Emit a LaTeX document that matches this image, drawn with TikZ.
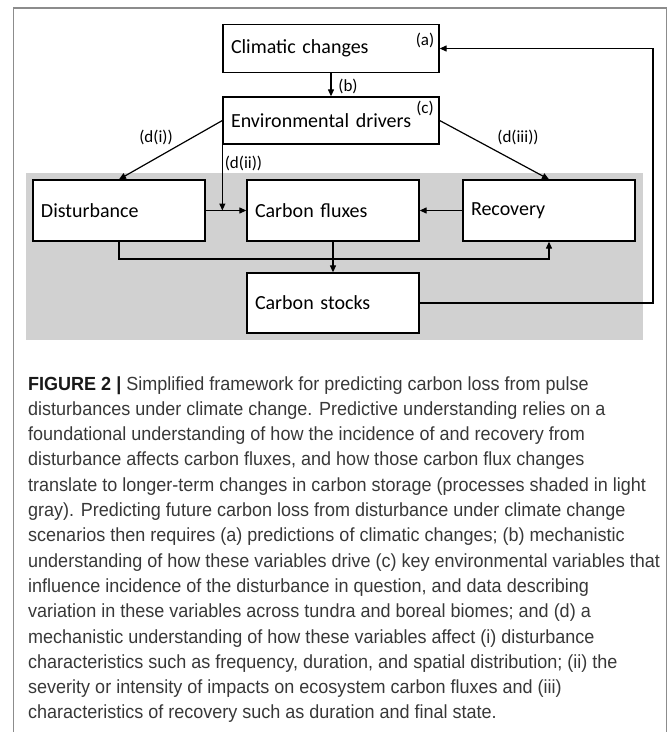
\documentclass[tikz,border=0pt]{standalone}
\usepackage{fontspec}
\setmainfont{Carlito}
\newfontfamily\capfont{Liberation Sans}[FakeStretch=0.948]
\usetikzlibrary{arrows.meta,calc}
\begin{document}
\begin{tikzpicture}[x=1pt,y=-1pt,
  box/.style={draw=black, line width=1.3pt, fill=white, align=left, inner xsep=8pt, inner ysep=0pt, font=\fontsize{20}{22}\selectfont, anchor=center},
  arr/.style={line width=1.2pt, -{Triangle[length=7pt,width=6pt]}},
  lbl/.style={font=\fontsize{17}{19}\selectfont, inner sep=0pt},
  captext/.style={font=\capfont\fontsize{19}{22}\selectfont, text=black!78, anchor=base west, inner sep=0pt}]
\useasboundingbox (0,0) rectangle (669,732);
% outer frame
\draw[black!45, line width=1.3pt] (13.5,732) -- (13.5,8) -- (666.5,8) -- (666.5,732);
% shaded region
\fill[black!18] (26,173) rectangle (643,340);
% boxes
\node[box, text width=200pt, minimum height=48pt] (clim) at (331,48.5) {Climatic changes};
\node[box, text width=200pt, minimum height=47pt] (env) at (331,120.5) {Environmental drivers};
\node[box, text width=156pt, minimum height=61pt] (dist) at (119,210.5) {Disturbance};
\node[box, text width=156pt, minimum height=61pt] (flux) at (333,210.5) {Carbon fluxes};
\node[box, text width=156pt, minimum height=61pt] (rec) at (549,210.5) {Recovery};
\node[box, text width=156pt, minimum height=60pt] (stocks) at (333,303) {Carbon stocks};
% labels
\node[lbl] (la) at (425,40) {(a)};
\node[lbl] (lc) at (425,108) {(c)};
\node[lbl] (lb) at (348,86) {(b)};
\node[lbl] (ldi) at (156,137) {(d(i))};
\node[lbl] (ldii) at (243.5,163) {(d(ii))};
\node[lbl] (ldiii) at (518,137) {(d(iii))};
% helper coordinates
\coordinate (hl) at (0,259);
\coordinate (rc) at (653,0);
\coordinate (jn) at (env.west |- dist.east);
% connectors
\draw[arr] (clim.south) -- (env.north);
\draw[arr] (env.west) -- (dist.north);
\draw[arr] (env.east) -- (rec.north);
\draw[arr] (env.west) -- (jn);
\draw[arr] (dist.east) -- (flux.west);
\draw[arr] (rec.west) -- (flux.east);
\draw[arr] (flux.south) -- (stocks.north);
\draw[arr] (dist.south) -- (dist.south |- hl) -- (rec.south |- hl) -- (rec.south);
\draw[arr] (stocks.east) -- (stocks.east -| rc) -- (rc |- clim.east) -- (clim.east);
% caption
\node[captext] (c1) at (28,390) {\textbf{\color{black!90}FIGURE 2 |} Simplified framework for predicting carbon loss from pulse};
\node[captext] (c2) at (28,415.3) {disturbances under climate change. Predictive understanding relies on a};
\node[captext] (c3) at (28,440.6) {foundational understanding of how the incidence of and recovery from};
\node[captext] (c4) at (28,465.9) {disturbance affects carbon fluxes, and how those carbon flux changes};
\node[captext] (c5) at (28,491.2) {translate to longer-term changes in carbon storage (processes shaded in light};
\node[captext] (c6) at (28,516.5) {gray). Predicting future carbon loss from disturbance under climate change};
\node[captext] (c7) at (28,541.8) {scenarios then requires (a) predictions of climatic changes; (b) mechanistic};
\node[captext] (c8) at (28,567.1) {understanding of how these variables drive (c) key environmental variables that};
\node[captext] (c9) at (28,592.4) {influence incidence of the disturbance in question, and data describing};
\node[captext] (c10) at (28,617.7) {variation in these variables across tundra and boreal biomes; and (d) a};
\node[captext] (c11) at (28,643) {mechanistic understanding of how these variables affect (i) disturbance};
\node[captext] (c12) at (28,668.3) {characteristics such as frequency, duration, and spatial distribution; (ii) the};
\node[captext] (c13) at (28,693.6) {severity or intensity of impacts on ecosystem carbon fluxes and (iii)};
\node[captext] (c14) at (28,718.9) {characteristics of recovery such as duration and final state.};
\end{tikzpicture}
\end{document}
